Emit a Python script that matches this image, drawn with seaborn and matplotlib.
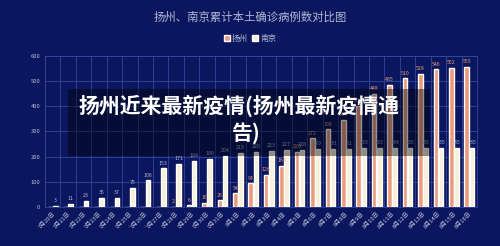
import pandas as pd
import matplotlib
matplotlib.use("Agg")
import matplotlib.pyplot as plt
import seaborn as sns
from matplotlib.patches import Patch, Rectangle

# ---- data ----
dates = ["7月20日", "7月21日", "7月22日", "7月23日", "7月24日", "7月25日", "7月26日",
         "7月27日", "7月28日", "7月29日", "7月30日", "7月31日", "8月1日", "8月2日",
         "8月3日", "8月4日", "8月5日", "8月6日", "8月7日", "8月8日", "8月9日",
         "8月10日", "8月11日", "8月12日", "8月13日", "8月14日", "8月15日", "8月16日"]
yangzhou = [0, 0, 0, 0, 0, 0, 0, 0, 2, 6, 16, 26, 54, 94, 126, 164, 220, 272,
            308, 344, 401, 448, 485, 510, 528, 546, 552, 555]
nanjing = [3, 11, 23, 35, 37, 75, 106, 153, 171, 184, 190, 204, 215, 220, 223,
           227, 228, 229, 231, 231, 233, 233, 234, 235, 235, 235, 235, 235]
cities = ["扬州", "南京"]
y_ticks = [0, 100, 200, 300, 400, 500, 600]

title = "扬州、南京累计本土确诊病例数对比图"
overlay_line1 = "扬州近来最新疫情(扬州最新疫情通"
overlay_line2 = "告)"

df = pd.DataFrame({
    "date": dates * 2,
    "city": [cities[0]] * len(dates) + [cities[1]] * len(dates),
    "count": yangzhou + nanjing,
})

# ---- style ----
bg = "#0a165e"
grid_c = "#34479a"
text_c = "#b4bad6"
c_yz = "#eb9a7c"
c_nj = "#f6f0da"

sns.set_style("dark")
plt.rcParams["font.family"] = ["Noto Sans CJK SC", "DejaVu Sans"]

fig = plt.figure(figsize=(5, 2.46), dpi=100, facecolor=bg)
ax = fig.add_axes([0.09, 0.1585, 0.864, 0.615])
ax.set_facecolor(bg)

sns.barplot(data=df, x="date", y="count", hue="city", hue_order=cities,
            palette=[c_yz, c_nj], width=0.66, gap=0.12, legend=False,
            saturation=1, ax=ax)

# value labels
for cont, vals, col in zip(ax.containers, [yangzhou, nanjing], [c_yz, text_c]):
    labels = [str(v) if v > 0 else "" for v in vals]
    ax.bar_label(cont, labels=labels, fontsize=3.8, color=col, padding=2)

ax.set_xlim(-0.5, len(dates) - 0.5)
ax.set_ylim(0, 600)
ax.set_yticks(y_ticks)
ax.set_xticks(range(len(dates)))
ax.set_xticklabels(dates, rotation=45, ha="right", rotation_mode="anchor")
ax.set_xticks([i - 0.5 for i in range(len(dates) + 1)], minor=True)
ax.tick_params(axis="both", which="major", length=0, colors=text_c, labelsize=4.2)
ax.tick_params(axis="x", which="major", pad=3, labelsize=4.2, colors="#c4c9e2")
ax.tick_params(axis="x", which="minor", length=0)
ax.grid(False)
ax.yaxis.grid(True, color=grid_c, linewidth=0.6)
ax.xaxis.grid(True, which="minor", color=grid_c, linewidth=0.6)
ax.set_axisbelow(True)
for s in ax.spines.values():
    s.set_visible(True)
    s.set_color(grid_c)
    s.set_linewidth(0.6)
ax.set_xlabel("")
ax.set_ylabel("")

# title and legend
fig.text(0.5, 1 - 17 / 246, title, ha="center", va="center", fontsize=8.2, color=text_c)
handles = [Patch(facecolor=c_yz), Patch(facecolor=c_nj)]
fig.legend(handles, cities, loc="center", bbox_to_anchor=(0.5, 1 - 38 / 246), ncol=2,
           frameon=False, fontsize=5.8, handlelength=0.7, handleheight=0.7,
           columnspacing=0.5, handletextpad=0.3, labelcolor=text_c)

# watermark overlay box and text
fig.patches.append(Rectangle((68 / 500, 1 - 156 / 246), 362 / 500, 67 / 246,
                             transform=fig.transFigure, facecolor="black",
                             alpha=0.42, edgecolor="none", zorder=5))
fig.text(239 / 500, 1 - 106 / 246, overlay_line1, ha="center", va="center",
         fontsize=15, color="white", fontweight="bold", zorder=6)
fig.text(246 / 500, 1 - 133 / 246, overlay_line2, ha="center", va="center",
         fontsize=15, color="white", fontweight="bold", zorder=6)

fig.savefig("out.png", dpi=100, facecolor=bg)
